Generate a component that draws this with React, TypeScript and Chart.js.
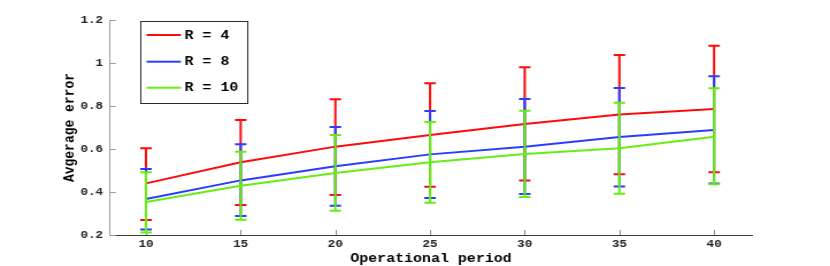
import React, { useEffect, useRef } from 'react';
import { Chart, registerables } from 'chart.js';

Chart.register(...registerables);

// ---- data ----
const periods = [10, 15, 20, 25, 30, 35, 40];
const xTickValues = [10, 15, 20, 25, 30, 35, 40];
const yTickValues = [0.2, 0.4, 0.6, 0.8, 1, 1.2];
const yTickLabels = ['0.2', '0.4', '0.6', '0.8', '1', '1.2'];

const seriesLabels = ['R = 4', 'R = 8', 'R = 10'];
const seriesColors = ['#ff0a0a', '#2a3dff', '#66ee10'];

const r4Mean = [0.44, 0.538, 0.611, 0.665, 0.716, 0.761, 0.786];
const r4Upper = [0.603, 0.735, 0.831, 0.906, 0.98, 1.037, 1.08];
const r4Lower = [0.27, 0.34, 0.386, 0.425, 0.453, 0.482, 0.492];

const r8Mean = [0.367, 0.454, 0.52, 0.575, 0.611, 0.656, 0.688];
const r8Upper = [0.507, 0.622, 0.702, 0.777, 0.833, 0.884, 0.938];
const r8Lower = [0.226, 0.288, 0.336, 0.372, 0.391, 0.426, 0.44];

const r10Mean = [0.353, 0.429, 0.488, 0.538, 0.577, 0.603, 0.657];
const r10Upper = [0.492, 0.587, 0.665, 0.726, 0.778, 0.815, 0.882];
const r10Lower = [0.212, 0.271, 0.313, 0.35, 0.377, 0.392, 0.436];

const xTitle = 'Operational period';
const yTitle = 'Avgerage error';

// ---- layout (canvas is drawn narrower and stretched horizontally, like the reference) ----
const OUT_W = 830;
const OUT_H = 266;
const INNER_W = 722;
const FONT = '"Liberation Mono", "DejaVu Sans Mono", monospace';

const errorBarPlugin = {
  id: 'errorBars',
  afterDatasetDraw(chart: any, args: any) {
    const ds = chart.data.datasets[args.index];
    const xs = chart.scales.x;
    const ys = chart.scales.y;
    const ctx = chart.ctx;
    ctx.save();
    ctx.strokeStyle = ds.borderColor;
    ctx.lineWidth = 2;
    ctx.lineCap = 'butt';
    const half = 5;
    ds.data.forEach((pt: any, i: number) => {
      const px = xs.getPixelForValue(pt.x);
      const pTop = ys.getPixelForValue(ds.errUpper[i]);
      const pBot = ys.getPixelForValue(ds.errLower[i]);
      ctx.beginPath();
      ctx.moveTo(px, pTop);
      ctx.lineTo(px, pBot);
      ctx.moveTo(px - half, pTop);
      ctx.lineTo(px + half, pTop);
      ctx.moveTo(px - half, pBot);
      ctx.lineTo(px + half, pBot);
      ctx.stroke();
    });
    ctx.restore();
  },
};

const inwardTicksPlugin = {
  id: 'inwardTicks',
  beforeDatasetsDraw(chart: any) {
    const { ctx, chartArea } = chart;
    const xs = chart.scales.x;
    const ys = chart.scales.y;
    ctx.save();
    ctx.lineWidth = 1;
    ctx.strokeStyle = '#9a9a9a';
    ctx.beginPath();
    yTickValues.forEach((v) => {
      const py = Math.round(ys.getPixelForValue(v)) + 0.5;
      ctx.moveTo(chartArea.left, py);
      ctx.lineTo(chartArea.left + 5, py);
    });
    ctx.stroke();
    ctx.strokeStyle = '#8a8a8a';
    ctx.beginPath();
    xTickValues.forEach((v) => {
      const px = Math.round(xs.getPixelForValue(v)) + 0.5;
      ctx.moveTo(px, chartArea.bottom);
      ctx.lineTo(px, chartArea.bottom - 5);
    });
    ctx.stroke();
    ctx.restore();
  },
};

const boxLegendPlugin = {
  id: 'boxLegend',
  afterDraw(chart: any) {
    const { ctx, chartArea } = chart;
    const left = chartArea.left + 26;
    const top = chartArea.top + 1;
    const w = 93;
    const h = 82;
    ctx.save();
    ctx.fillStyle = '#ffffff';
    ctx.fillRect(left, top, w, h);
    ctx.strokeStyle = '#2a2a2a';
    ctx.lineWidth = 1;
    ctx.strokeRect(Math.round(left) + 0.5, Math.round(top) + 0.5, w, h);
    const rows = [14, 40.7, 66.7];
    ctx.font = `bold 13px ${FONT}`;
    ctx.textBaseline = 'middle';
    ctx.textAlign = 'left';
    chart.data.datasets.forEach((ds: any, i: number) => {
      const y = top + rows[i];
      ctx.strokeStyle = ds.borderColor;
      ctx.lineWidth = 2;
      ctx.beginPath();
      ctx.moveTo(left + 5.8, y);
      ctx.lineTo(left + 35.7, y);
      ctx.stroke();
      ctx.fillStyle = '#000000';
      ctx.fillText(ds.label, left + 38.8, y + 0.5);
    });
    ctx.restore();
  },
};

function makeDataset(label: string, color: string, mean: number[], upper: number[], lower: number[], order: number) {
  return {
    label,
    data: periods.map((p, i) => ({ x: p, y: mean[i] })),
    errUpper: upper,
    errLower: lower,
    borderColor: color,
    backgroundColor: color,
    borderWidth: 2,
    pointRadius: 0,
    pointHoverRadius: 0,
    tension: 0,
    fill: false,
    order,
  } as any;
}

export default function App() {
  const canvasRef = useRef<HTMLCanvasElement | null>(null);

  useEffect(() => {
    document.body.style.margin = '0';
    const canvas = canvasRef.current;
    if (!canvas) return;
    const chart = new Chart(canvas, {
      type: 'line',
      data: {
        datasets: [
          makeDataset(seriesLabels[0], seriesColors[0], r4Mean, r4Upper, r4Lower, 3),
          makeDataset(seriesLabels[1], seriesColors[1], r8Mean, r8Upper, r8Lower, 2),
          makeDataset(seriesLabels[2], seriesColors[2], r10Mean, r10Upper, r10Lower, 1),
        ],
      },
      options: {
        responsive: false,
        animation: false,
        devicePixelRatio: 1,
        layout: { padding: { top: 20, right: INNER_W - 654.1, bottom: 0, left: 0 } },
        plugins: {
          legend: { display: false },
          tooltip: { enabled: false },
        },
        scales: {
          x: {
            type: 'linear',
            min: 8.1,
            max: 42,
            afterFit: (scale: any) => {
              scale.height = 31;
            },
            afterBuildTicks: (scale: any) => {
              scale.ticks = xTickValues.map((v) => ({ value: v }));
            },
            grid: { display: false, drawTicks: false },
            border: { display: true, color: '#3a3a3a', width: 1 },
            ticks: {
              padding: 3,
              color: '#262626',
              maxRotation: 0,
              autoSkip: false,
              font: { family: FONT, size: 11, weight: 'bold' },
              callback: (v: any) => String(v),
            },
            title: {
              display: true,
              text: xTitle,
              color: '#000000',
              font: { family: FONT, size: 13, weight: 'bold', lineHeight: 1 },
              padding: { top: 0, bottom: 1 },
            },
          },
          y: {
            type: 'linear',
            min: 0.2,
            max: 1.2,
            afterFit: (scale: any) => {
              scale.width = 95.7;
            },
            afterBuildTicks: (scale: any) => {
              scale.ticks = yTickValues.map((v) => ({ value: v }));
            },
            grid: { display: false, drawTicks: false },
            border: { display: true, color: '#a0a0a0', width: 1 },
            ticks: {
              padding: 6,
              color: '#262626',
              autoSkip: false,
              font: { family: FONT, size: 11, weight: 'bold' },
              callback: (v: any) => {
                const idx = yTickValues.findIndex((t) => Math.abs(t - v) < 1e-9);
                return idx >= 0 ? yTickLabels[idx] : '';
              },
            },
            title: {
              display: true,
              text: yTitle,
              color: '#000000',
              font: { family: FONT, size: 13, weight: 'bold', lineHeight: 1 },
              padding: { top: 54.4, bottom: 0 },
            },
          },
        },
      } as any,
      plugins: [inwardTicksPlugin, errorBarPlugin, boxLegendPlugin],
    });
    return () => chart.destroy();
  }, []);

  return (
    <div style={{ width: OUT_W, height: OUT_H, overflow: 'hidden', background: '#ffffff' }}>
      <canvas
        ref={canvasRef}
        width={INNER_W}
        height={OUT_H}
        style={{ width: `${OUT_W}px`, height: `${OUT_H}px`, display: 'block' }}
      />
    </div>
  );
}
